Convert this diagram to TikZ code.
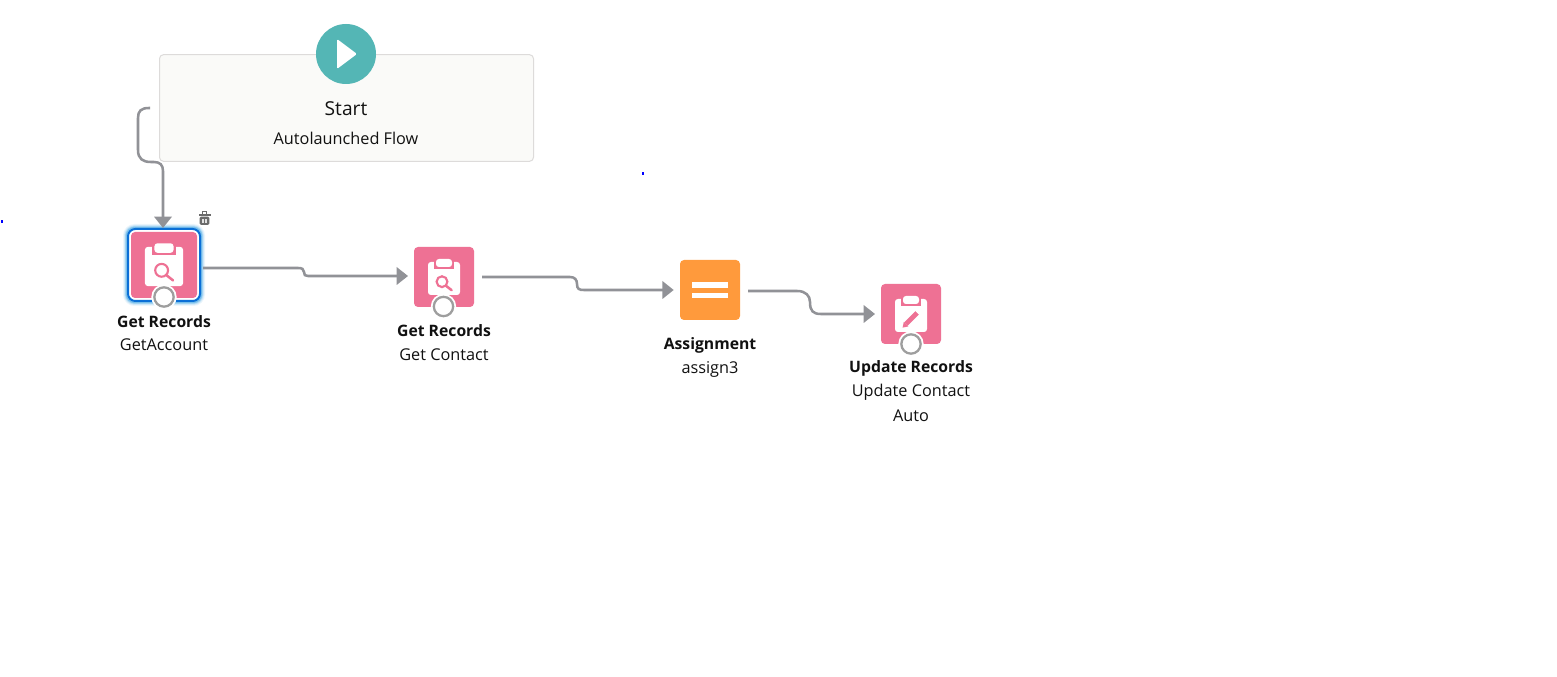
\documentclass[tikz,border=0pt]{standalone}
\usepackage{fontspec}
\setmainfont{Open Sans}
\usetikzlibrary{arrows.meta}
\definecolor{tilepink}{HTML}{EE7194}
\definecolor{tileorange}{HTML}{FF9A3C}
\definecolor{startteal}{HTML}{54B6B5}
\definecolor{linegray}{HTML}{919297}
\definecolor{boxfill}{HTML}{FAFAF8}
\definecolor{boxline}{HTML}{DDDBDA}
\definecolor{textdark}{HTML}{111111}
\definecolor{ringgray}{HTML}{9E9E9E}
\definecolor{selblue}{HTML}{0B6FD6}
\definecolor{trashgray}{HTML}{6B6B6B}
\tikzset{
  x=0.75pt,y=-0.75pt,
  conn/.style={draw=linegray,line width=1.9pt,-{Triangle[length=8.5pt,width=13pt]}},
  tile/.style={fill=#1,rounded corners=3pt,minimum size=45pt,inner sep=0pt,outer sep=0pt},
  title/.style={font=\fontsize{11.8}{14}\selectfont\bfseries,text=textdark,inner sep=0pt,anchor=center},
  sub/.style={font=\fontsize{12.2}{14}\selectfont,text=textdark,inner sep=0pt,anchor=center},
  ring/.style={circle,draw=ringgray,line width=1.7pt,fill=white,minimum size=14.5pt,inner sep=0pt},
  halo/.style={circle,fill=white,minimum size=19pt,inner sep=0pt},
}
% clipboard: #1 centre, #2 scale
\newcommand{\clipboard}[2]{%
  \begin{scope}[shift={#1},scale=#2]
    \fill[white,rounded corners=2.2pt] (-16,-15) rectangle (16,18);
    \fill[tilepink] (-10,-20) rectangle (10,-8);
    \fill[white,rounded corners=2.2pt] (-8,-18) rectangle (8,-10);
  \end{scope}}
\newcommand{\magnifier}[2]{%
  \begin{scope}[shift={#1},scale=#2]
    \draw[tilepink,line width=1.6pt] (-2,4.7) circle[radius=5.4];
    \draw[tilepink,line width=1.9pt,line cap=round] (2.2,8.9) -- (7.6,13.2);
  \end{scope}}
\begin{document}
\begin{tikzpicture}
\useasboundingbox (0,0) rectangle (1557,677);
\fill[white] (0,0) rectangle (1557,677);

% start box
\node[draw=boxline,fill=boxfill,line width=0.75pt,rounded corners=3pt,minimum width=280.5pt,minimum height=80pt,inner sep=0pt] (startbox) at (346.5,108) {};
\node[circle,fill=startteal,minimum size=45pt,inner sep=0pt] (starticon) at (346,54) {};
\fill[white,rounded corners=1pt] (337,39) -- (357,54) -- (337,69) -- cycle;
\node[font=\fontsize{14.4}{17}\selectfont,text=textdark,inner sep=0pt] (starttitle) at (346,108.5) {Start};
\node[sub] (startsub) at (346,138) {Autolaunched Flow};

% selected tile
\foreach \w/\o in {7.5/0.07,6/0.12,4.5/0.2,3.2/0.3}{
  \draw[selblue!80!cyan,opacity=\o,line width=\w pt,rounded corners=5pt] (128,229) rectangle (200,301);
}
\node[draw=selblue,fill=white,line width=1.5pt,rounded corners=5.5pt,minimum size=54pt,inner sep=0pt] (selframe) at (164,265) {};
\node[tile=tilepink,minimum size=49.5pt] (t1) at (164,265) {};
\clipboard{(164,264.7)}{1.19}
\magnifier{(164,264.7)}{1.19}
\node[halo] (h1) at (164,297) {};
\node[ring] (r1) at (164,297) {};
\node[title] (l1a) at (164,321.5) {Get Records};
\node[sub] (l1b) at (164,345) {GetAccount};

% trash icon
\node[minimum size=10pt,inner sep=0pt] (trash) at (204.5,218) {};
\fill[trashgray] (198.5,214) rectangle (210.5,215.8);
\draw[trashgray,line width=0.8pt] (202.2,214) -- (202.2,211.6) -- (206.8,211.6) -- (206.8,214);
\fill[trashgray,rounded corners=1pt] (199.7,216.6) rectangle (209.3,225);
\fill[white!80!trashgray] (202,218.6) rectangle (203.6,223);
\fill[white!80!trashgray] (205.4,218.6) rectangle (207,223);

% get contact
\node[tile=tilepink] (t2) at (444,277) {};
\clipboard{(444,277)}{1}
\magnifier{(444,277)}{1}
\node[halo] (h2) at (443.5,306.5) {};
\node[ring] (r2) at (443.5,306.5) {};
\node[title] (l2a) at (444,330.5) {Get Records};
\node[sub] (l2b) at (444,354.5) {Get Contact};

% assignment
\node[tile=tileorange] (t3) at (710,290) {};
\fill[white] (692,282.3) rectangle (728,287.7);
\fill[white] (692,292.7) rectangle (728,298);
\node[title] (l3a) at (710,345) {Assignment};
\node[sub] (l3b) at (710,369) {assign3};

% update
\node[tile=tilepink] (t4) at (911,314) {};
\clipboard{(911,314)}{1}
\draw[tilepink,line width=3.6pt] (906,324) -- (917.5,312.5);
\fill[tilepink] (902.6,327.6) -- (903.8,321.8) -- (908.4,326.4) -- cycle;
\draw[white,line width=0.8pt] (914.8,309.8) -- (920.2,315.2);
\node[halo] (h4) at (911,344) {};
\node[ring] (r4) at (911,344) {};
\node[title] (l4a) at (911,368) {Update Records};
\node[sub] (l4b) at (911,392) {Update Contact};
\node[sub] (l4c) at (911,415.5) {Auto};

% free ends
\coordinate (c0) at (150,108);
\coordinate (c1) at (203,268);
\coordinate (c2) at (482,277);
\coordinate (c3) at (748,291);

% connectors
\draw[conn] (c0) -- (149,108) .. controls (141,108) and (138,111) .. (138,118) -- (138,150)
  .. controls (138,159) and (143,162) .. (151,162) -- (154,162)
  .. controls (160,162) and (163,165) .. (163,171) -- ([xshift=-0.75pt]selframe.north);
\draw[conn] (c1) -- (298,268) .. controls (302,268) and (304,269) .. (304,272)
  .. controls (304,275) and (305,276) .. (308,276) -- ([xshift=-4.5pt,yshift=0.75pt]t2.west);
\draw[conn] (c2) -- (570,277) .. controls (575,277) and (577,280) .. (577,284)
  .. controls (577,289) and (579,290) .. (584,290) -- ([xshift=-4.7pt]t3.west);
\draw[conn] (c3) -- (797,291) .. controls (806,291) and (810,296) .. (810,302)
  .. controls (810,311) and (813,314) .. (821,314) -- ([xshift=-4.5pt]t4.west);

% stray dots
\fill[blue] (641.5,172.5) rectangle (643.5,175);
\fill[blue] (0.5,220.5) rectangle (2.5,223);
\end{tikzpicture}
\end{document}
